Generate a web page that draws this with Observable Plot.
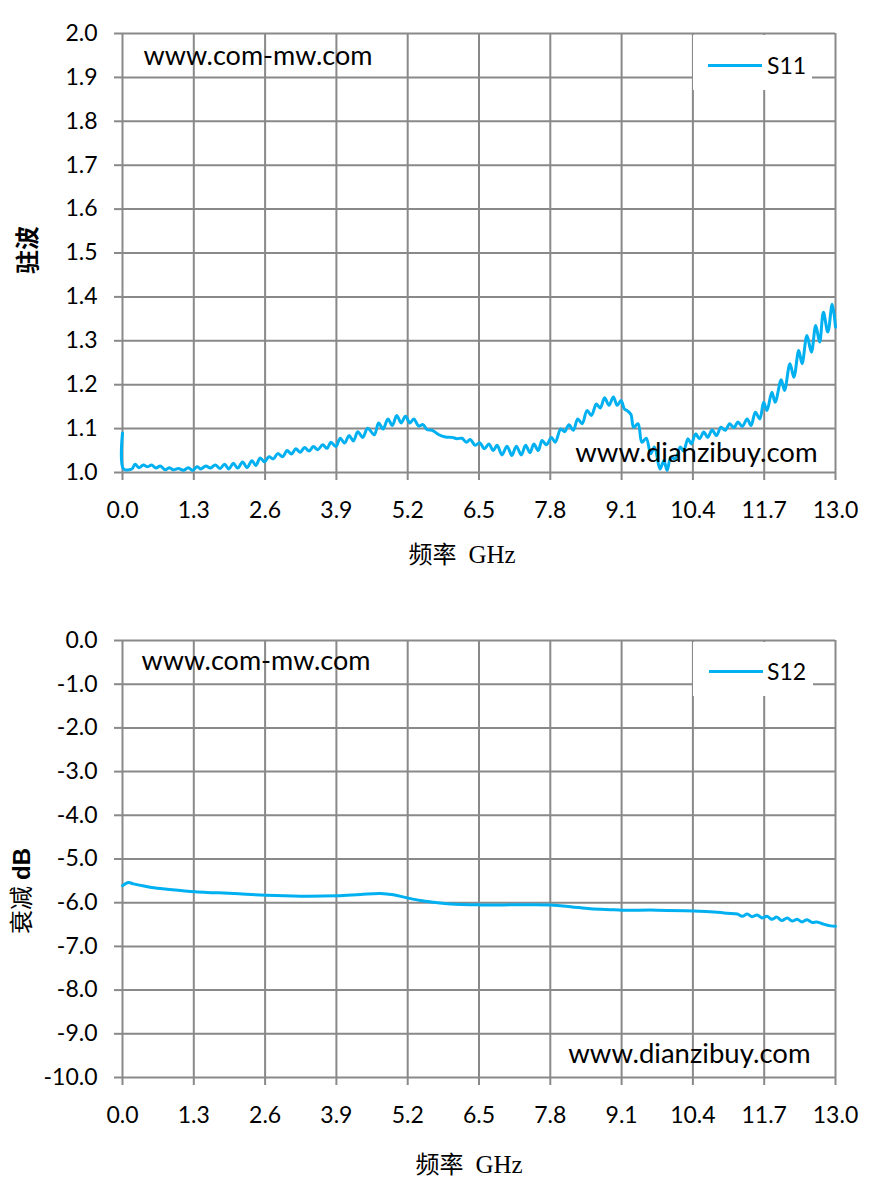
<!DOCTYPE html>
<html><head><meta charset="utf-8">
<script src="https://cdn.jsdelivr.net/npm/d3@7"></script>
<script src="https://cdn.jsdelivr.net/npm/@observablehq/plot@0.6"></script>
<style>
body{margin:0;background:#fff}
#wrap{position:relative;width:875px;height:1189px;overflow:hidden;font-family:Lato,sans-serif;background:#fff}
.chart{position:absolute;left:0}
.title{position:absolute;transform:translate(-50%,-50%);white-space:nowrap;font-size:24px;color:#000;line-height:1}
.ytitle{transform:translate(-50%,-50%) rotate(-90deg)}
.legend{position:absolute;background:#fff}
.legend .sw{position:absolute;height:3px;background:#00B0F0}
.legend .lt{position:absolute;font-size:23px;line-height:1;transform:translateY(-50%);font-family:Lato,sans-serif;color:#000}
.cjk{font-family:"Noto Sans CJK SC",sans-serif}
.ghz{font-family:"Liberation Serif",serif;font-size:25px;margin-left:12px}
.bold{font-family:"Liberation Sans",sans-serif;font-weight:bold}
</style></head><body>
<div id="wrap">
  <div id="c1" class="chart" style="top:0"></div>
  <div id="c2" class="chart" style="top:590px"></div>
  <div class="title ytitle cjk" style="left:26px;top:250px;font-weight:bold">驻波</div>
  <div class="title" style="left:462px;top:554px"><span class="cjk">频率</span><span class="ghz">GHz</span></div>
  <div class="title ytitle" style="left:21px;top:891px"><span class="cjk">衰减</span> <span class="bold">dB</span></div>
  <div class="title" style="left:469px;top:1164px"><span class="cjk">频率</span><span class="ghz">GHz</span></div>
  <div class="legend" style="left:693px;top:35px;width:119px;height:55px">
    <div class="sw" style="left:15px;top:28.5px;width:54px"></div>
    <div class="lt" id="lg1" style="left:74px;top:30px"></div>
  </div>
  <div class="legend" style="left:693px;top:642px;width:120px;height:54px">
    <div class="sw" style="left:16px;top:27.5px;width:54px"></div>
    <div class="lt" id="lg2" style="left:74px;top:29px"></div>
  </div>
</div>
<script>
const seriesNames = ["S11", "S12"];
const watermarks = ["www.com-mw.com", "www.dianzibuy.com"];
const xTicks = [0, 1.3, 2.6, 3.9, 5.2, 6.5, 7.8, 9.1, 10.4, 11.7, 13.0];
const s11Ticks = [1.0, 1.1, 1.2, 1.3, 1.4, 1.5, 1.6, 1.7, 1.8, 1.9, 2.0];
const s12Ticks = [0, -1, -2, -3, -4, -5, -6, -7, -8, -9, -10];

const s11Freq = [0.00,0.02,0.17,0.23,0.30,0.38,0.46,0.53,0.61,0.69,0.78,0.85,0.93,1.02,1.11,1.20,1.28,1.36,1.43,1.52,1.60,1.69,1.78,1.86,1.94,2.02,2.10,2.19,2.27,2.36,2.43,2.51,2.59,2.67,2.75,2.83,2.92,3.00,3.08,3.16,3.24,3.32,3.40,3.48,3.56,3.65,3.73,3.80,3.89,3.97,4.05,4.13,4.21,4.29,4.38,4.47,4.59,4.67,4.75,4.84,4.92,5.00,5.08,5.16,5.24,5.31,5.40,5.48,5.55,5.65,5.77,5.89,6.01,6.10,6.19,6.27,6.34,6.43,6.51,6.60,6.68,6.76,6.83,6.92,7.01,7.10,7.18,7.27,7.35,7.43,7.50,7.58,7.65,7.73,7.82,7.89,7.99,8.06,8.14,8.22,8.30,8.38,8.47,8.55,8.64,8.71,8.79,8.87,8.95,9.02,9.09,9.15,9.21,9.27,9.32,9.40,9.47,9.55,9.63,9.70,9.80,9.87,9.93,10.00,10.08,10.17,10.23,10.31,10.37,10.45,10.52,10.60,10.67,10.75,10.83,10.91,10.99,11.07,11.15,11.22,11.30,11.39,11.46,11.54,11.62,11.69,11.75,11.84,11.90,12.01,12.07,12.17,12.24,12.33,12.39,12.48,12.56,12.64,12.71,12.78,12.86,12.94,13.00];
const s11Val = [1.090,1.008,1.008,1.019,1.011,1.017,1.013,1.017,1.010,1.015,1.006,1.011,1.006,1.009,1.005,1.011,1.005,1.013,1.008,1.015,1.010,1.017,1.009,1.019,1.008,1.021,1.010,1.024,1.011,1.027,1.016,1.033,1.024,1.036,1.031,1.043,1.036,1.050,1.042,1.054,1.046,1.057,1.049,1.059,1.052,1.063,1.055,1.069,1.059,1.078,1.067,1.084,1.072,1.093,1.080,1.101,1.086,1.113,1.099,1.122,1.107,1.130,1.113,1.128,1.113,1.122,1.106,1.109,1.098,1.096,1.086,1.081,1.080,1.077,1.078,1.069,1.075,1.062,1.068,1.054,1.065,1.050,1.062,1.040,1.060,1.039,1.060,1.040,1.062,1.045,1.065,1.050,1.073,1.063,1.080,1.069,1.099,1.093,1.109,1.096,1.122,1.111,1.141,1.130,1.156,1.147,1.170,1.153,1.172,1.153,1.164,1.145,1.140,1.132,1.103,1.111,1.069,1.078,1.043,1.058,1.008,1.027,1.005,1.035,1.031,1.058,1.049,1.077,1.065,1.088,1.077,1.092,1.080,1.097,1.084,1.103,1.096,1.111,1.102,1.115,1.105,1.122,1.107,1.137,1.122,1.160,1.141,1.183,1.160,1.211,1.187,1.248,1.217,1.278,1.248,1.312,1.274,1.335,1.297,1.365,1.320,1.383,1.331];

const s12Freq = [0.00,0.11,0.20,0.39,0.57,0.81,1.06,1.32,1.66,2.03,2.61,3.25,3.91,4.34,4.70,4.94,5.19,5.43,5.68,5.98,6.53,6.95,7.80,8.17,8.53,8.90,9.13,9.75,10.41,10.85,11.03,11.21,11.30,11.39,11.48,11.57,11.66,11.75,11.84,11.93,12.02,12.12,12.21,12.30,12.39,12.48,12.57,12.66,12.78,12.91,13.00];
const s12Val = [-5.61,-5.54,-5.57,-5.62,-5.66,-5.69,-5.72,-5.75,-5.77,-5.79,-5.83,-5.85,-5.84,-5.81,-5.79,-5.82,-5.89,-5.95,-5.99,-6.03,-6.05,-6.05,-6.05,-6.09,-6.14,-6.16,-6.17,-6.17,-6.19,-6.22,-6.24,-6.26,-6.31,-6.26,-6.32,-6.28,-6.35,-6.31,-6.38,-6.33,-6.41,-6.35,-6.42,-6.38,-6.44,-6.39,-6.45,-6.44,-6.49,-6.53,-6.54];

const s11 = s11Freq.map((f, i) => ({f, v: s11Val[i]}));
const s12 = s12Freq.map((f, i) => ({f, v: s12Val[i]}));

const GRID = "#898989";
const LINE = "#00B0F0";
const fmt = d => d.toFixed(1);

function chart({data, yDomain, yTicks, height, mt, mb, wm1, wm2}) {
  return Plot.plot({
    width: 875, height,
    marginLeft: 122, marginRight: 40, marginTop: mt, marginBottom: mb,
    style: {fontFamily: "Lato, sans-serif", fontSize: "23px", color: "#000", background: "#fff", overflow: "visible"},
    x: {domain: [0, 13]},
    y: {domain: yDomain},
    marks: [
      Plot.gridX(xTicks, {stroke: GRID, strokeOpacity: 1, strokeWidth: 2}),
      Plot.gridY(yTicks, {stroke: GRID, strokeOpacity: 1, strokeWidth: 2}),
      Plot.axisX(xTicks, {tickSize: 8, tickPadding: 21, tickFormat: fmt, stroke: GRID, strokeWidth: 2, label: null}),
      Plot.axisY(yTicks, {tickSize: 8, tickPadding: 17, tickFormat: fmt, stroke: GRID, strokeWidth: 2, label: null}),
      Plot.line(data, {x: "f", y: "v", stroke: LINE, strokeWidth: 3, curve: "catmull-rom"}),
      Plot.text([watermarks[0]], {text: d => d, frameAnchor: "top-left", textAnchor: "start", lineAnchor: "bottom", dx: wm1[0], dy: wm1[1], fontSize: 27, fill: "#000"}),
      Plot.text([watermarks[1]], {text: d => d, frameAnchor: "bottom-right", textAnchor: "end", lineAnchor: "bottom", dx: wm2[0], dy: wm2[1], fontSize: 27.5, fill: "#000"})
    ]
  });
}

document.getElementById("c1").append(chart({data: s11, yDomain: [1, 2], yTicks: s11Ticks, height: 590, mt: 33, mb: 118, wm1: [21, 31], wm2: [-18, -11]}));
document.getElementById("c2").append(chart({data: s12, yDomain: [-10, 0], yTicks: s12Ticks, height: 599, mt: 50, mb: 112, wm1: [19, 29], wm2: [-25, -15]}));
document.getElementById("lg1").textContent = seriesNames[0];
document.getElementById("lg2").textContent = seriesNames[1];
</script>
</body></html>
